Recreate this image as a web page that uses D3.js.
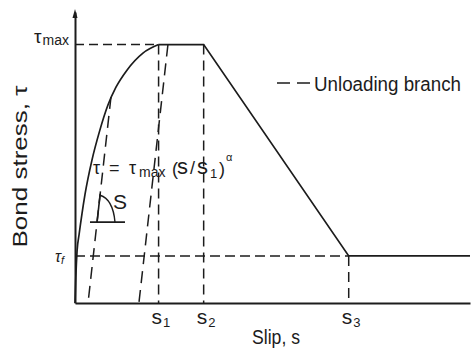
<!DOCTYPE html>
<html>
<head>
<meta charset="utf-8">
<script src="https://cdn.jsdelivr.net/npm/d3@7"></script>
<style>
  html, body { margin: 0; padding: 0; background: #fff; }
  svg { display: block; }
  text { font-family: "Liberation Sans", Arial, sans-serif; fill: #1c1c1c; }
</style>
</head>
<body>
<svg id="chart" width="473" height="356"></svg>
<script>
// ---- data (slip in units of s1-ish, stress in units of tau_max) ----
const ascendS   = [0, 0.01, 0.025, 0.05, 0.085, 0.122, 0.207, 0.30, 0.402, 0.50, 0.634, 0.829, 1.02];
const ascendTau = [0, 0.10, 0.20, 0.265, 0.345, 0.42, 0.553, 0.665, 0.766, 0.835, 0.901, 0.967, 1.0];
const envelopeS   = [1.02, 1.57, 3.34, 4.82];
const envelopeTau = [1.0, 1.0, 0.182, 0.182];
const unloadAS   = [0.439, 0.159];
const unloadATau = [0.797, 0];
const unloadBS   = [1.134, 0.78];
const unloadBTau = [1.0, 0];
const tickValues = [1.02, 1.57, 3.34];
const tickSubs   = ["1", "2", "3"];
const tauMax = 1.0, tauF = 0.182;
const sMax = 4.82, tauTop = 1.126;
// slope triangle annotation (data units)
const triBaseTau = 0.313, triTopTau = 0.422, triBaseS = [0.183, 0.61], triArcEndS = 0.488;

const svg = d3.select("#chart");
const x = d3.scaleLinear().domain([0, sMax]).range([75, 470]);
const y = d3.scaleLinear().domain([0, tauTop]).range([303, 12]);
const ink = "#1c1c1c";

// axes
svg.append("g").attr("transform", `translate(0,${y(0)})`)
  .call(d3.axisBottom(x).tickValues(tickValues).tickSize(0).tickSizeOuter(0).tickFormat(() => ""))
  .call(g => g.select(".domain").attr("stroke", ink).attr("stroke-width", 2));
svg.append("g").attr("transform", `translate(${x(0)},0)`)
  .call(d3.axisLeft(y).tickValues([]).tickSize(0).tickSizeOuter(0))
  .call(g => g.select(".domain").attr("stroke", ink).attr("stroke-width", 2));
// arrow head on y axis
svg.append("path")
  .attr("d", `M${x(0)},${y(tauTop) - 3} l-2.5,9 l5,0 z`)
  .attr("fill", ink);

const line = d3.line().x(d => x(d[0])).y(d => y(d[1]));

// dashed reference lines
const dashed = (pts, dash) => svg.append("path").attr("d", line(pts))
  .attr("fill", "none").attr("stroke", ink).attr("stroke-width", 1.5)
  .attr("stroke-dasharray", dash || "9,5");
dashed([[0, tauMax], [tickValues[0], tauMax]], "9,5");
dashed([[0, tauF], [tickValues[2], tauF]], "10,5");
dashed([[tickValues[0], tauMax], [tickValues[0], 0]], "10,6");
dashed([[tickValues[1], tauMax], [tickValues[1], 0]], "10,6");
dashed([[tickValues[2], tauF], [tickValues[2], 0]], "10,6");
// unloading branches
dashed(unloadAS.map((s, i) => [s, unloadATau[i]]), "12,7");
dashed(unloadBS.map((s, i) => [s, unloadBTau[i]]), "12,7");

// ascending curve
svg.append("path")
  .attr("d", d3.line().x(d => x(d[0])).y(d => y(d[1])).curve(d3.curveMonotoneX)(ascendS.map((s, i) => [s, ascendTau[i]])))
  .attr("fill", "none").attr("stroke", ink).attr("stroke-width", 1.7);
// plateau + softening + residual
svg.append("path")
  .attr("d", line(envelopeS.map((s, i) => [s, envelopeTau[i]])))
  .attr("fill", "none").attr("stroke", ink).attr("stroke-width", 1.7);

// slope triangle
const sOnA = t => unloadAS[1] + (unloadAS[0] - unloadAS[1]) * (t - unloadATau[1]) / (unloadATau[0] - unloadATau[1]);
svg.append("path")
  .attr("d", line([[triBaseS[0], triBaseTau], [triBaseS[1], triBaseTau]]))
  .attr("stroke", ink).attr("stroke-width", 1.6).attr("fill", "none");
svg.append("path")
  .attr("d", line([[sOnA(triBaseTau), triBaseTau], [sOnA(triTopTau), triTopTau]]))
  .attr("stroke", ink).attr("stroke-width", 1.6).attr("fill", "none");
{
  const ax = x(sOnA(triTopTau - 0.005)), ay = y(triTopTau - 0.005);
  const bx = x(triArcEndS), by = y(triBaseTau);
  svg.append("path")
    .attr("d", `M${ax},${ay} Q${bx - 2},${ay + 4} ${bx},${by}`)
    .attr("stroke", ink).attr("stroke-width", 1.4).attr("fill", "none");
}
svg.append("text").attr("x", 113).attr("y", 209).attr("font-size", 21).text("S");

// tick labels s1 s2 s3
tickValues.forEach((v, i) => {
  const t = svg.append("text").attr("x", x(v) - 7).attr("y", 324).attr("font-size", 21);
  t.append("tspan").text("s");
  t.append("tspan").attr("font-size", 13).attr("dy", 3).attr("dx", 1).text(tickSubs[i]);
});

// tau labels
{
  const t = svg.append("text").attr("x", 34).attr("y", 43).attr("font-size", 19);
  t.append("tspan").text("τ");
  t.append("tspan").attr("font-size", 14).attr("dy", 2).attr("dx", 1).text("max");
  const f = svg.append("text").attr("x", 55).attr("y", 262).attr("font-size", 16).attr("font-style", "italic");
  f.append("tspan").text("τ");
  f.append("tspan").attr("font-size", 11).attr("dy", 2).text("f");
}

// formula
{
  const t = svg.append("text").attr("y", 174).attr("font-size", 18);
  t.append("tspan").attr("x", 93).text("τ");
  t.append("tspan").attr("x", 109).text("=");
  t.append("tspan").attr("x", 129).text("τ");
  t.append("tspan").attr("x", 139).attr("y", 177).attr("font-size", 14).text("max");
  t.append("tspan").attr("x", 172).attr("y", 175).text("(");
  t.append("tspan").attr("x", 177).attr("y", 174).attr("font-size", 22).text("s");
  t.append("tspan").attr("x", 190).attr("y", 174).text("/");
  t.append("tspan").attr("x", 197).attr("y", 174).attr("font-size", 22).text("s");
  t.append("tspan").attr("x", 210).attr("y", 178).attr("font-size", 13).text("1");
  t.append("tspan").attr("x", 219).attr("y", 175).text(")");
  t.append("tspan").attr("x", 226).attr("y", 161).attr("font-size", 11).text("α");
}

// legend
svg.append("line").attr("x1", 277).attr("x2", 310).attr("y1", 83).attr("y2", 83)
  .attr("stroke", ink).attr("stroke-width", 1.6).attr("stroke-dasharray", "13,7");
svg.append("text").attr("x", 314).attr("y", 91).attr("font-size", 20)
  .attr("textLength", 147).attr("lengthAdjust", "spacingAndGlyphs").text("Unloading branch");

// axis titles
svg.append("text").attr("x", 252).attr("y", 344).attr("font-size", 20)
  .attr("textLength", 48).attr("lengthAdjust", "spacingAndGlyphs").text("Slip, s");
svg.append("text").attr("transform", "translate(27,166.5) rotate(-90)")
  .attr("text-anchor", "middle").attr("font-size", 20)
  .attr("textLength", 162).attr("lengthAdjust", "spacingAndGlyphs").text("Bond stress, τ");
</script>
</body>
</html>
